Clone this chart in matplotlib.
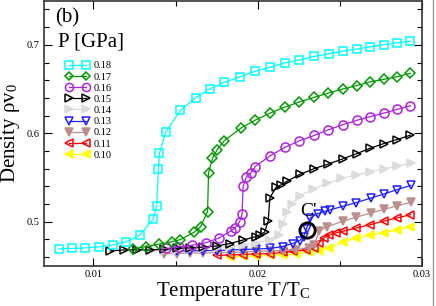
import numpy as np
import matplotlib
matplotlib.use("Agg")
import matplotlib.pyplot as plt
from matplotlib.lines import Line2D

plt.rcParams['font.family'] = ['Liberation Serif', 'DejaVu Serif']
plt.rcParams['mathtext.fontset'] = 'stix'

# ---- data (T/Tc, density) ----
t_018 = [0.00791, 0.00871, 0.00952, 0.01035, 0.01117, 0.01198, 0.01281, 0.01365, 0.01386,
         0.01396, 0.01402, 0.01441, 0.01529, 0.01622, 0.01709, 0.01798, 0.01895, 0.01984,
         0.02073, 0.02165, 0.02253, 0.02344, 0.02432, 0.02521, 0.02602, 0.02685, 0.02768,
         0.02848, 0.02929]
d_018 = [0.4693, 0.4697, 0.4704, 0.4715, 0.4738, 0.4772, 0.4846, 0.5034, 0.5183,
         0.5601, 0.5772, 0.6015, 0.6258, 0.6401, 0.6502, 0.6576, 0.6640, 0.6700,
         0.6745, 0.6794, 0.6828, 0.6869, 0.6899, 0.6929, 0.6952, 0.6978, 0.7003,
         0.7022, 0.7041]

t_017 = [0.01242, 0.01321, 0.01401, 0.01481, 0.01530, 0.01612, 0.01653, 0.01695, 0.01701,
         0.01725, 0.01753, 0.01797, 0.01896, 0.01985, 0.02074, 0.02165, 0.02253, 0.02344,
         0.02430, 0.02521, 0.02602, 0.02685, 0.02768, 0.02848, 0.02929]
d_017 = [0.4694, 0.4719, 0.4747, 0.4775, 0.4798, 0.4879, 0.4945, 0.5115, 0.5556,
         0.5716, 0.5812, 0.5916, 0.6056, 0.6149, 0.6227, 0.6296, 0.6354, 0.6407,
         0.6454, 0.6502, 0.6539, 0.6581, 0.6610, 0.6640, 0.6678]

t_016 = [0.01441, 0.01524, 0.01603, 0.01685, 0.01764, 0.01835, 0.01861, 0.01890, 0.01905,
         0.01911, 0.01930, 0.01958, 0.01985, 0.02073, 0.02164, 0.02252, 0.02344, 0.02430,
         0.02521, 0.02602, 0.02685, 0.02768, 0.02848, 0.02929]
d_016 = [0.4697, 0.4716, 0.4734, 0.4762, 0.4815, 0.4893, 0.4927, 0.5000, 0.5084,
         0.5399, 0.5500, 0.5551, 0.5624, 0.5742, 0.5840, 0.5913, 0.5975, 0.6039,
         0.6098, 0.6146, 0.6188, 0.6228, 0.6270, 0.6311]

t_015 = [0.01103, 0.01184, 0.01265, 0.01345, 0.01427, 0.01509, 0.01588, 0.01668, 0.01750,
         0.01830, 0.01909, 0.01988, 0.02015, 0.02042, 0.02064, 0.02074, 0.02112, 0.02142,
         0.02176, 0.02255, 0.02345, 0.02430, 0.02521, 0.02603, 0.02685, 0.02768, 0.02848,
         0.02929]
d_015 = [0.4669, 0.4680, 0.4683, 0.4680, 0.4688, 0.4699, 0.4704, 0.4713, 0.4725,
         0.4753, 0.4792, 0.4831, 0.4854, 0.4882, 0.5006, 0.5270, 0.5388, 0.5416,
         0.5455, 0.5534, 0.5601, 0.5652, 0.5713, 0.5770, 0.5831, 0.5884, 0.5929,
         0.5978]

t_014 = [0.01345, 0.01427, 0.01509, 0.01588, 0.01668, 0.01750, 0.01830, 0.01909, 0.01991,
         0.02073, 0.02127, 0.02155, 0.02179, 0.02206, 0.02255, 0.02339, 0.02424, 0.02509,
         0.02597, 0.02685, 0.02770, 0.02850, 0.02931]
d_014 = [0.4663, 0.4674, 0.4685, 0.4691, 0.4697, 0.4708, 0.4719, 0.4736, 0.4764,
         0.4798, 0.4854, 0.4978, 0.5112, 0.5202, 0.5292, 0.5371, 0.5438, 0.5489,
         0.5528, 0.5567, 0.5601, 0.5629, 0.5663]

t_013 = [0.01509, 0.01588, 0.01668, 0.01750, 0.01830, 0.01909, 0.01991, 0.02073, 0.02152,
         0.02212, 0.02255, 0.02279, 0.02297, 0.02321, 0.02364, 0.02412, 0.02442, 0.02518,
         0.02600, 0.02688, 0.02770, 0.02850, 0.02930]
d_013 = [0.4669, 0.4669, 0.4674, 0.4674, 0.4680, 0.4685, 0.4691, 0.4697, 0.4719,
         0.4753, 0.4787, 0.4831, 0.4921, 0.5045, 0.5090, 0.5118, 0.5135, 0.5174,
         0.5216, 0.5267, 0.5315, 0.5363, 0.5410]

t_012 = [0.01427, 0.01509, 0.01588, 0.01668, 0.01750, 0.01830, 0.01909, 0.01991, 0.02073,
         0.02152, 0.02236, 0.02315, 0.02345, 0.02373, 0.02424, 0.02518, 0.02600, 0.02688,
         0.02770, 0.02850, 0.02930]
d_012 = [0.4640, 0.4640, 0.4646, 0.4646, 0.4652, 0.4652, 0.4657, 0.4663, 0.4669,
         0.4674, 0.4685, 0.4708, 0.4736, 0.4899, 0.4944, 0.5006, 0.5051, 0.5099,
         0.5140, 0.5180, 0.5219]

t_011 = [0.01750, 0.01830, 0.01909, 0.01991, 0.02073, 0.02152, 0.02212, 0.02291, 0.02345,
         0.02376, 0.02406, 0.02436, 0.02479, 0.02521, 0.02600, 0.02685, 0.02767, 0.02848,
         0.02929]
d_011 = [0.4618, 0.4624, 0.4629, 0.4635, 0.4640, 0.4652, 0.4663, 0.4680, 0.4702,
         0.4764, 0.4820, 0.4848, 0.4876, 0.4893, 0.4929, 0.4966, 0.5006, 0.5042,
         0.5079]

t_010 = [0.01830, 0.01909, 0.01991, 0.02073, 0.02152, 0.02236, 0.02315, 0.02376, 0.02436,
         0.02521, 0.02600, 0.02685, 0.02768, 0.02848, 0.02929]
d_010 = [0.4601, 0.4607, 0.4612, 0.4618, 0.4624, 0.4635, 0.4652, 0.4669, 0.4702,
         0.4770, 0.4815, 0.4848, 0.4876, 0.4910, 0.4944]

labels = ['0.18', '0.17', '0.16', '0.15', '0.14', '0.13', '0.12', '0.11', '0.10']
colors = ['#00ffff', '#009a00', '#b020e0', '#000000', '#dcdcdc',
          '#2020ff', '#bc8f8f', '#ff0000', '#ffff00']
markers = ['s', 'D', 'o', '>', '>', 'v', 'v', '<', '<']
filled = [False, False, False, False, True, False, True, False, True]
msizes = [6, 5, 6.5, 6, 6, 6, 6, 6, 6]

series = [(t_018, d_018), (t_017, d_017), (t_016, d_016), (t_015, d_015), (t_014, d_014),
          (t_013, d_013), (t_012, d_012), (t_011, d_011), (t_010, d_010)]

# critical point C'
cp_t = 0.02297
cp_d = 0.4910

fig = plt.figure(figsize=(4.36, 3.06), dpi=100)
ax = fig.add_axes([0.101, 0.131, 0.867, 0.867])

handles = []
# draw from the lowest pressure up so the upper curves sit on top
for i in reversed(range(len(series))):
    t, d = series[i]
    fc = colors[i] if filled[i] else 'none'
    ax.plot(t, d, '-', color=colors[i], lw=0.9, marker=markers[i], ms=msizes[i],
            mfc=fc, mec=colors[i], mew=1.1, zorder=3 + (9 - i))
for i in range(len(series)):
    fc = colors[i] if filled[i] else 'none'
    handles.append(Line2D([], [], color=colors[i], lw=0.9, marker=markers[i],
                          ms=msizes[i] * 0.9, mfc=fc, mec=colors[i], mew=1.1))

ax.plot([cp_t], [cp_d], 'o', ms=11, mfc='none', mec='black', mew=2, zorder=20)
ax.text(cp_t + 0.0001, 0.507, "C'", fontsize=14, ha='center', va='baseline', zorder=20)

ax.set_xlim(0.0070, 0.030)
ax.set_ylim(0.45, 0.75)
ax.set_xticks([0.01, 0.02, 0.03])
ax.set_xticklabels(['0.01', '0.02', '0.03'])
ax.set_xticks([0.015, 0.025], minor=True)
ax.set_yticks([0.5, 0.6, 0.7])
ax.set_yticklabels(['0.5', '0.6', '0.7'])
ax.set_yticks(np.arange(0.46, 0.75, 0.02), minor=True)
ax.tick_params(which='both', direction='in', top=True, right=True, labelsize=7.5, pad=3)
ax.tick_params(which='major', length=5.5, width=0.8)
ax.tick_params(which='minor', length=3.5, width=0.8)
for s in ax.spines.values():
    s.set_linewidth(1.2)
    s.set_color('#333333')

ax.set_xlabel(r'Temperature T/T$_\mathregular{C}$', fontsize=15, labelpad=1)
ax.set_ylabel(r'Density ρv$_\mathregular{0}$', fontsize=15, labelpad=1)
ax.yaxis.set_label_coords(-0.058, 0.5)

ax.text(0.03, 0.97, '(b)', transform=ax.transAxes, fontsize=15, va='top', ha='left')
ax.text(0.037, 0.845, 'P [GPa]', transform=ax.transAxes, fontsize=15, va='center', ha='left')

ax.legend(handles, labels, loc='upper left', bbox_to_anchor=(0.058, 0.772), frameon=False,
          fontsize=7.5, numpoints=2, handlelength=2.2, labelspacing=0.18,
          handletextpad=0.5, borderaxespad=0, borderpad=0)

# thin frame edge seen at the right of the reference image
fig.add_artist(Line2D([0.993, 0.993], [0, 1], transform=fig.transFigure,
                      color='#999999', lw=1))

fig.savefig('out.png', dpi=100)
